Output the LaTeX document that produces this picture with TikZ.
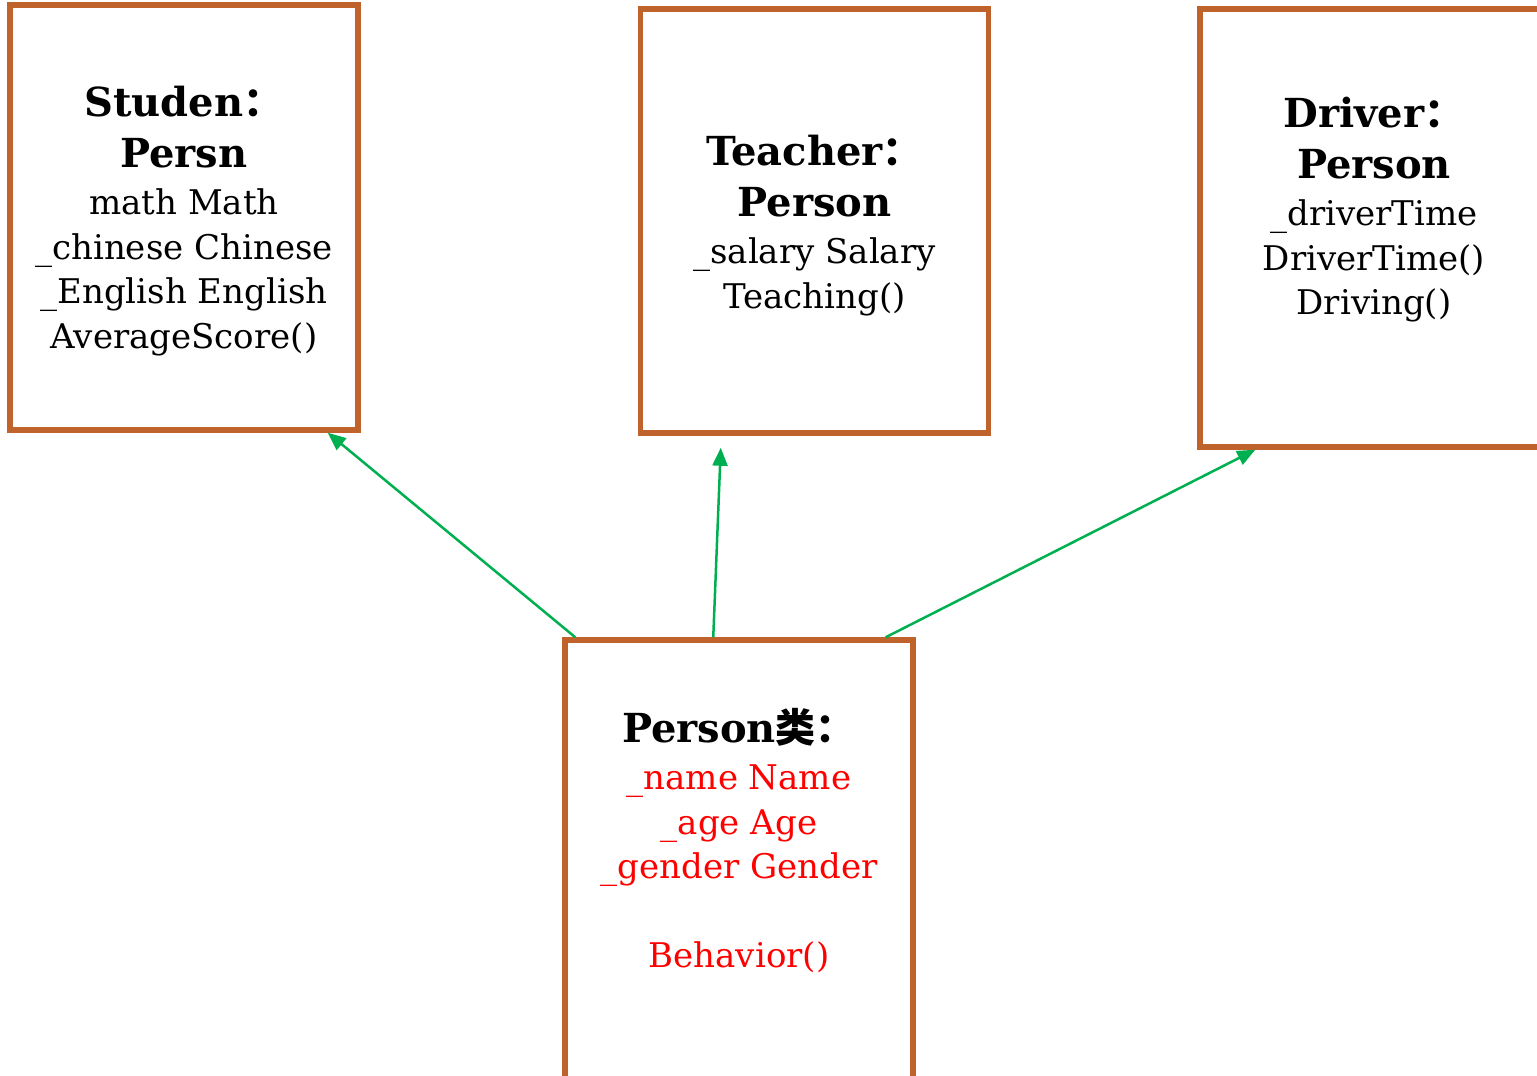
\documentclass[tikz,border=0pt]{standalone}
\usepackage{fontspec}
\setmainfont{DejaVu Serif}
\newfontfamily\cjk{Noto Sans CJK SC}
\usetikzlibrary{arrows.meta}
\definecolor{boxbrown}{RGB}{192,98,43}
\definecolor{linkgreen}{RGB}{0,176,80}
\newcommand\clstitle[1]{{\bfseries\fontsize{40}{51}\selectfont #1}}

\begin{document}
\begin{tikzpicture}[x=1pt, y=-1pt, >={Triangle[length=18pt,width=15pt]},
  classbox/.style={draw=boxbrown, line width=5.5pt, minimum width=348pt, inner sep=0pt},
  classtext/.style={anchor=north, align=center, inner sep=0pt,
                    font=\fontsize{34}{44.5}\selectfont},
  link/.style={->, draw=linkgreen, line width=2.5pt}]
  \useasboundingbox (0,0) rectangle (1537,1076);
  \clip (0,0) rectangle (1537,1076);
  % the four classes
  \node[classbox, minimum height=425pt] (stu)    at (184,217.5) {};
  \node[classbox, minimum height=424pt] (teach)  at (814.5,221) {};
  \node[classbox, minimum height=438pt] (drv)    at (1374,228)  {};
  \node[classbox, minimum height=450pt] (person) at (739,865)   {};
  \node[classtext] (stuT) at ([yshift=-84pt]stu.north)
    {\clstitle{Studen{\cjk ：}}\\[6.5pt] \clstitle{Persn}\\[2.5pt]
     math Math\\ \_chinese Chinese\\ \_English English\\ AverageScore()};
  \node[classtext] (teachT) at ([yshift=-129pt]teach.north)
    {\clstitle{Teacher{\cjk ：}}\\[6.5pt] \clstitle{Person}\\[2.5pt]
     \_salary Salary\\ Teaching()};
  \node[classtext] (drvT) at ([yshift=-91pt]drv.north)
    {\clstitle{Driver{\cjk ：}}\\[6.5pt] \clstitle{Person}\\[2.5pt]
     \_driverTime\\ DriverTime()\\ Driving()};
  \node[classtext, text=red] (personT) at ([yshift=-71pt]person.north)
    {\textcolor{black}{\clstitle{Person{\cjk 类：}}}\\[2.5pt]
     \_name Name\\ \_age Age\\ \_gender Gender\\[44.5pt] Behavior()};
  % inheritance links
  \draw[link] ([xshift=13pt]person.north west) -- ([xshift=-33pt]stu.south east);
  \draw[link] ([xshift=151pt]person.north west) -- ([xshift=83pt,yshift=-12pt]teach.south west);
  \draw[link] ([xshift=-30pt]person.north east) -- ([xshift=58pt]drv.south west);
\end{tikzpicture}
\end{document}
